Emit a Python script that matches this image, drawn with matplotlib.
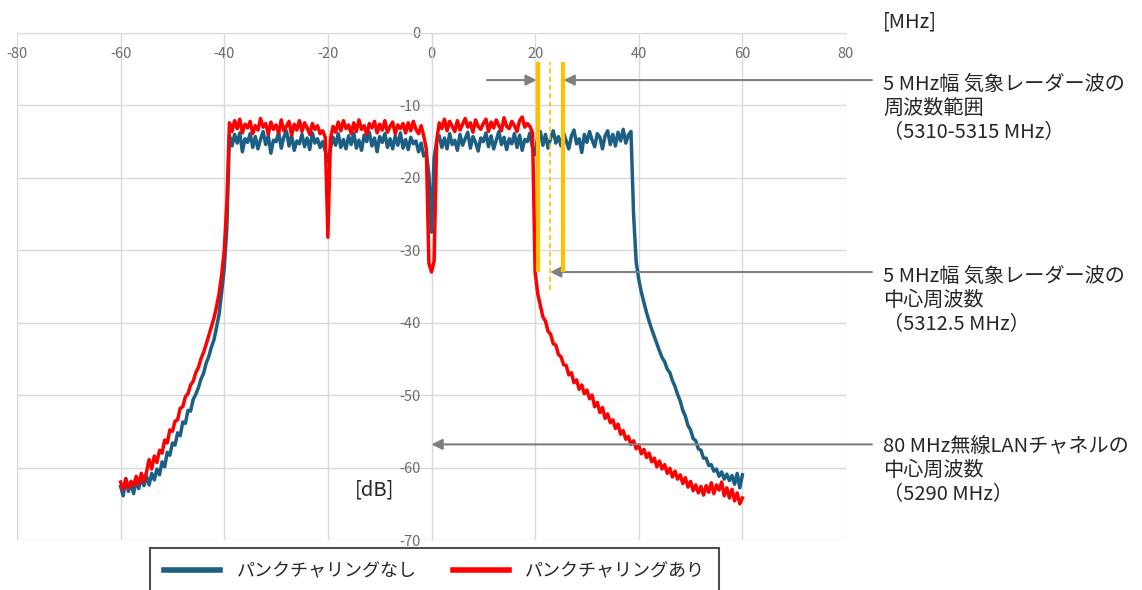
import matplotlib
matplotlib.use("Agg")
import matplotlib.pyplot as plt
import numpy as np

plt.rcParams["font.family"] = ["Noto Sans CJK JP", "DejaVu Sans"]
plt.rcParams["axes.unicode_minus"] = False

# frequency offset from 5290 MHz, sampled every 0.5 MHz from -60 to 60
freq = np.arange(-60.0, 60.01, 0.5)

# パンクチャリングなし (dB), 10 samples per row = 5 MHz
level_off = [
    -62.6, -63.9, -61.5, -63.3, -62.1, -63.6, -61.8, -62.9, -61.3, -62.5,  # -60
    -61.2, -62.4, -60.8, -61.7, -60.2, -61.0, -59.2, -59.9, -57.9, -58.3,  # -55
    -56.6, -56.9, -55.2, -55.6, -53.7, -53.9, -52.1, -52.2, -50.6, -49.9,  # -50
    -49.0, -47.8, -47.0, -45.6, -44.7, -43.4, -42.4, -40.7, -38.8, -35.8,  # -45
    -32.5, -27.0, -14.2, -15.6, -14.0, -15.2, -13.8, -16.4, -14.6, -15.1,  # -40
    -13.9, -15.8, -14.3, -16.0, -14.7, -13.6, -15.4, -14.2, -16.6, -14.8,  # -35
    -15.0, -13.7, -15.9, -14.4, -13.5, -15.6, -14.1, -16.2, -14.9, -15.3,  # -30
    -14.0, -15.7, -14.5, -16.1, -13.8, -15.2, -14.6, -15.8, -15.0, -16.3,  # -25
    -17.8, -15.9, -14.4, -15.5, -13.9, -15.8, -14.7, -16.0, -14.2, -15.4,  # -20
    -13.8, -15.9, -14.8, -16.2, -14.1, -15.0, -13.7, -15.6, -14.5, -16.4,  # -15
    -14.3, -15.1, -13.9, -15.8, -14.6, -16.0, -14.2, -15.5, -13.8, -15.9,  # -10
    -14.7, -16.1, -14.4, -15.3, -14.9, -16.4, -15.2, -17.0, -16.6, -19.5,  # -5
    -27.5, -17.2, -15.0, -14.2, -15.8, -14.5, -16.0, -13.9, -15.4, -14.8,  # 0
    -16.2, -14.0, -15.5, -14.6, -13.7, -15.9, -14.3, -15.1, -16.3, -14.5,  # 5
    -15.0, -13.8, -15.7, -14.2, -16.0, -14.8, -13.6, -15.4, -14.4, -16.1,  # 10
    -14.6, -15.3, -13.9, -15.8, -14.1, -16.2, -14.7, -15.0, -13.8, -15.9,  # 15
    -16.8, -14.4, -13.6, -15.5, -14.0, -15.9, -14.5, -13.5, -15.2, -14.3,  # 20
    -15.6, -13.8, -14.9, -16.0, -14.2, -13.4, -15.3, -14.6, -16.5, -14.0,  # 25
    -15.1, -13.6, -14.8, -15.7, -13.9, -14.4, -16.0, -14.2, -13.5, -15.4,  # 30
    -14.0, -15.6, -13.7, -14.9, -13.3, -15.2, -14.1, -13.6, -25.0, -31.6,  # 35
    -34.0, -35.8, -37.2, -38.6, -39.8, -40.9, -41.9, -42.9, -43.9, -44.8,  # 40
    -45.4, -46.4, -46.9, -48.0, -48.8, -49.9, -50.8, -52.1, -52.9, -54.2,  # 45
    -54.8, -56.0, -56.3, -57.4, -57.6, -58.7, -58.7, -59.7, -59.6, -60.5,  # 50
    -60.2, -61.2, -60.6, -61.6, -60.9, -61.8, -61.1, -62.3, -60.8, -62.8,  # 55
    -61.0,
]

# パンクチャリングあり (dB)
level_on = [
    -62.0, -63.0, -61.6, -62.8, -61.9, -62.5, -61.2, -62.3, -60.8, -61.9,  # -60
    -60.6, -58.9, -60.2, -58.4, -59.3, -57.6, -58.0, -56.2, -56.6, -54.8,  # -55
    -55.0, -53.6, -53.4, -51.8, -51.6, -50.2, -49.8, -48.6, -48.1, -46.9,  # -50
    -46.2, -45.0, -44.1, -43.0, -41.8, -40.6, -39.4, -37.8, -36.0, -33.4,  # -45
    -30.0, -23.5, -12.4, -13.6, -12.1, -13.2, -11.9, -13.8, -12.6, -13.1,  # -40
    -12.2, -13.9, -12.8, -13.4, -11.8, -13.0, -12.5, -14.0, -12.3, -13.3,  # -35
    -12.7, -13.8, -12.0, -13.5, -12.9, -12.2, -14.1, -12.6, -13.4, -12.1,  # -30
    -13.6, -12.4, -13.1, -14.0, -12.5, -13.3, -12.8, -13.9, -13.5, -14.4,  # -25
    -28.2, -14.6, -12.9, -13.7, -12.3, -13.5, -12.1, -13.2, -12.7, -13.9,  # -20
    -12.4, -13.6, -12.0, -13.3, -12.8, -14.0, -12.5, -13.1, -12.2, -13.8,  # -15
    -12.6, -13.4, -12.1, -13.7, -12.9, -12.3, -13.9, -12.7, -13.2, -12.5,  # -10
    -13.8, -12.4, -13.5, -12.2, -13.3, -13.9, -12.8, -14.2, -16.0, -31.8,  # -5
    -33.0, -31.5, -14.8, -12.4, -13.2, -11.9, -13.5, -12.2, -12.9, -13.6,  # 0
    -12.1, -13.4, -12.6, -11.8, -13.0, -12.4, -13.7, -12.0, -12.9, -13.3,  # 5
    -12.5, -11.9, -13.6, -12.3, -13.1, -12.0, -12.8, -13.5, -11.7, -12.9,  # 10
    -13.2, -12.2, -12.8, -13.6, -12.1, -11.6, -13.0, -12.5, -12.9, -13.8,  # 15
    -33.0, -36.0, -37.6, -39.2, -39.8, -41.2, -41.6, -42.9, -43.1, -44.4,  # 20
    -44.7, -45.8, -45.9, -47.2, -46.9, -48.3, -47.9, -49.2, -48.6, -49.8,  # 25
    -49.3, -50.5, -50.0, -51.6, -51.0, -52.4, -51.7, -53.2, -52.6, -53.8,  # 30
    -53.4, -54.6, -54.0, -55.4, -54.9, -56.1, -55.7, -56.8, -56.3, -57.4,  # 35
    -56.9, -58.1, -57.5, -58.6, -58.0, -59.2, -58.7, -59.9, -59.1, -60.2,  # 40
    -59.6, -60.8, -60.1, -61.3, -60.5, -61.6, -61.0, -62.2, -61.4, -62.7,  # 45
    -61.9, -63.2, -62.4, -63.5, -62.6, -63.8, -62.5, -63.4, -62.1, -63.6,  # 50
    -62.4, -63.1, -62.0, -63.9, -62.8, -64.2, -63.0, -64.6, -63.5, -65.0,  # 55
    -64.2,
]

series_labels = ["パンクチャリングなし", "パンクチャリングあり"]

# weather radar band edges / centre as drawn (offset MHz)
radar_lo, radar_hi = 20.5, 25.3
radar_mid = (radar_lo + radar_hi) / 2
wlan_center = 0.0

x_ticks = [-80, -60, -40, -20, 0, 20, 40, 60, 80]
y_ticks = [0, -10, -20, -30, -40, -50, -60, -70]

notes = [
    "5 MHz幅 気象レーダー波の\n周波数範囲\n（5310-5315 MHz）",
    "5 MHz幅 気象レーダー波の\n中心周波数\n（5312.5 MHz）",
    "80 MHz無線LANチャネルの\n中心周波数\n（5290 MHz）",
]

BLUE = "#1c5f85"
RED = "#ff0000"
GRID = "#d9d9d9"
ARROW = "#7f7f7f"
YELLOW = "#ffc000"
INK = "#262626"

fig = plt.figure(figsize=(11.42, 5.90), dpi=100)
ax = fig.add_axes([17 / 1142, 1 - 540 / 590, 829 / 1142, 507 / 590])

ax.plot(freq, level_off, color=BLUE, lw=2.5, label=series_labels[0], zorder=3)
ax.plot(freq, level_on, color=RED, lw=2.5, label=series_labels[1], zorder=4)

ax.set_xlim(-80, 80)
ax.set_ylim(-70, 0)
ax.set_xticks(x_ticks)
ax.set_yticks(y_ticks)
ax.grid(True, color=GRID, lw=1.0, zorder=0)
for side in ["top", "right"]:
    ax.spines[side].set_visible(False)
ax.spines["bottom"].set_position(("data", 0))
ax.spines["left"].set_position(("data", 0))
for side in ["bottom", "left"]:
    ax.spines[side].set_color(GRID)
ax.tick_params(length=0, labelsize=10.5, labelcolor="#6b6b6b")
ax.tick_params(axis="x", pad=10)
ax.tick_params(axis="y", pad=8)

# radar band markers
ax.vlines([radar_lo, radar_hi], -33.0, -4.0, color=YELLOW, lw=3.0, zorder=6)
ax.vlines([radar_mid], -35.5, -4.0, color=YELLOW, lw=1.2,
          linestyles=(0, (3, 2)), zorder=6)

arrow_kw = dict(arrowstyle="-|>", color=ARROW, lw=1.5, mutation_scale=16,
                shrinkA=0, shrinkB=0)
tail_x = 85.0
ax.annotate("", xy=(radar_lo - 0.2, -6.5), xytext=(10.7, -6.5),
            arrowprops=arrow_kw, zorder=5)
ax.annotate("", xy=(radar_hi + 0.2, -6.5), xytext=(tail_x, -6.5),
            arrowprops=arrow_kw, annotation_clip=False, zorder=5)
ax.annotate("", xy=(radar_mid, -33.0), xytext=(tail_x, -33.0),
            arrowprops=arrow_kw, annotation_clip=False, zorder=5)
ax.annotate("", xy=(wlan_center, -56.8), xytext=(tail_x, -56.8),
            arrowprops=arrow_kw, annotation_clip=False, zorder=5)

note_y = [-10.4, -36.9, -60.4]
for txt, ty in zip(notes, note_y):
    ax.text(87.2, ty, txt, fontsize=14.5, color=INK, va="center",
            ha="left", linespacing=1.18, clip_on=False)

ax.text(87.2, 1.5, "[MHz]", fontsize=14.5, color=INK, va="center",
        ha="left", clip_on=False)
ax.text(-10.9, -63.1, "[dB]", fontsize=14.5, color=INK, va="center",
        ha="center")

leg = fig.legend(loc="upper left", bbox_to_anchor=(150 / 1142, 1 - 548 / 590),
                 ncol=2, fontsize=13, frameon=True, fancybox=False,
                 edgecolor="#222222", borderpad=0.8, borderaxespad=0,
                 handlelength=3.1, handletextpad=0.9, columnspacing=2.0)
leg.get_frame().set_linewidth(1.5)
for text in leg.get_texts():
    text.set_color(INK)
for line in leg.get_lines():
    line.set_linewidth(4)

fig.savefig("out.png", dpi=100)
